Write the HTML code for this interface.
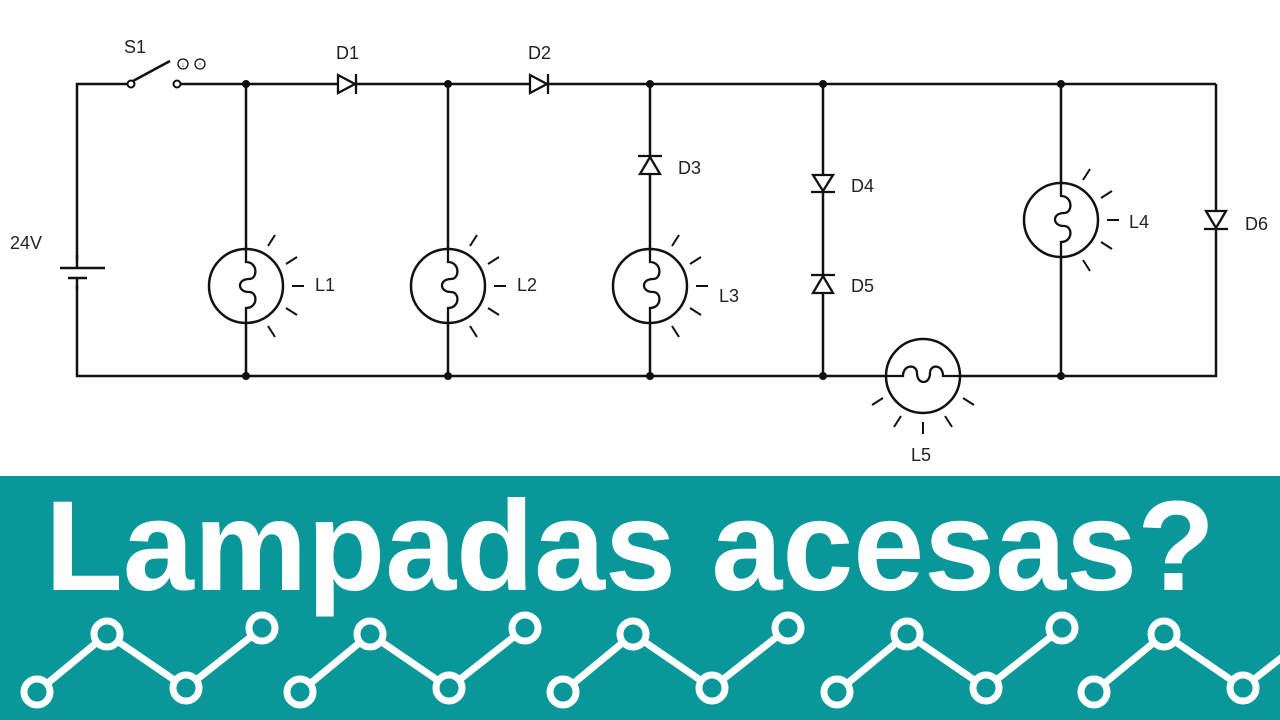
<!DOCTYPE html>
<html><head><meta charset="utf-8"><style>
html,body{margin:0;padding:0;background:#fff;}
svg{display:block;}
</style></head><body>
<svg width="1280" height="720" viewBox="0 0 1280 720" xmlns="http://www.w3.org/2000/svg">
<defs>
<g id="lamp">
<circle cx="0" cy="0" r="37" fill="#fff" stroke="#111" stroke-width="2.5"/>
<path d="M0,-37 V-24 C12,-24 12,-7 3,-7 C-9,-7 -9,6 3,6 C12,6 12,22 0,22 V37" fill="none" stroke="#111" stroke-width="2.3"/>
<g stroke="#111" stroke-width="2">
<line x1="22" y1="-40" x2="29" y2="-51"/>
<line x1="40" y1="-22" x2="51" y2="-29"/>
<line x1="46" y1="0" x2="58" y2="0"/>
<line x1="40" y1="22" x2="51" y2="29"/>
<line x1="22" y1="40" x2="29" y2="51"/>
</g>
</g>
</defs>
<g fill="none" stroke="#111" stroke-width="2.5">
<polyline points="77,268 77,84 128,84"/>
<line x1="180" y1="84" x2="1216" y2="84"/>
<polyline points="77,278 77,376 1216,376 1216,84"/>
<line x1="133" y1="81" x2="170" y2="61"/>
<line x1="246" y1="84" x2="246" y2="376"/>
<line x1="448" y1="84" x2="448" y2="376"/>
<line x1="650" y1="84" x2="650" y2="376"/>
<line x1="823" y1="84" x2="823" y2="376"/>
<line x1="1061" y1="84" x2="1061" y2="376"/>
</g>
<rect x="40" y="260" width="70" height="26" fill="#fff"/>
<line x1="60" y1="268" x2="105" y2="268" stroke="#111" stroke-width="2.5"/>
<line x1="68" y1="278" x2="87" y2="278" stroke="#111" stroke-width="2.5"/>
<line x1="77" y1="278" x2="77" y2="290" stroke="#111" stroke-width="2.5"/>
<line x1="77" y1="255" x2="77" y2="268" stroke="#111" stroke-width="2.5"/>
<circle cx="131" cy="84" r="3.5" fill="#fff" stroke="#111" stroke-width="2"/>
<circle cx="177" cy="84" r="3.5" fill="#fff" stroke="#111" stroke-width="2"/>
<circle cx="183" cy="64" r="5" fill="#fff" stroke="#111" stroke-width="1.3"/>
<circle cx="200" cy="64" r="5" fill="#fff" stroke="#111" stroke-width="1.3"/>
<text x="183" y="67" font-family="Liberation Sans" font-size="7" text-anchor="middle" fill="#111">↓</text>
<text x="200" y="67" font-family="Liberation Sans" font-size="7" text-anchor="middle" fill="#111">↑</text>
<g fill="#111">
<circle cx="246" cy="84" r="4"/><circle cx="448" cy="84" r="4"/><circle cx="650" cy="84" r="4"/><circle cx="823" cy="84" r="4"/><circle cx="1061" cy="84" r="4"/>
<circle cx="246" cy="376" r="4"/><circle cx="448" cy="376" r="4"/><circle cx="650" cy="376" r="4"/><circle cx="823" cy="376" r="4"/><circle cx="1061" cy="376" r="4"/>
</g>
<g fill="#fff" stroke="#111" stroke-width="2.3">
<polygon points="338,75 338,93 355,84"/><line x1="356" y1="74" x2="356" y2="94"/>
<polygon points="530,75 530,93 547,84"/><line x1="548" y1="74" x2="548" y2="94"/>
<polygon points="640,174 660,174 650,157"/><line x1="638" y1="156" x2="662" y2="156"/>
<polygon points="813,175 833,175 823,191"/><line x1="811" y1="192" x2="835" y2="192"/>
<polygon points="813,293 833,293 823,276"/><line x1="811" y1="275" x2="835" y2="275"/>
<polygon points="1206,211 1226,211 1216,228"/><line x1="1204" y1="229" x2="1228" y2="229"/>
</g>
<use href="#lamp" x="246" y="286"/>
<use href="#lamp" x="448" y="286"/>
<use href="#lamp" x="650" y="286"/>
<use href="#lamp" x="1061" y="220"/>
<g transform="translate(923,376) rotate(90)">
<circle cx="0" cy="0" r="37" fill="#fff" stroke="#111" stroke-width="2.5"/>
<path d="M0,-37 V-20 C-12,-20 -12,-7 -3,-7 C9,-7 9,6 -3,6 C-12,6 -12,20 0,20 V37" fill="none" stroke="#111" stroke-width="2.3"/>
<g stroke="#111" stroke-width="2">
<line x1="22" y1="-40" x2="29" y2="-51"/>
<line x1="40" y1="-22" x2="51" y2="-29"/>
<line x1="46" y1="0" x2="58" y2="0"/>
<line x1="40" y1="22" x2="51" y2="29"/>
<line x1="22" y1="40" x2="29" y2="51"/>
</g>
</g>
<g font-family="Liberation Sans, sans-serif" font-size="18" fill="#222">
<text x="124" y="53">S1</text>
<text x="336" y="59">D1</text>
<text x="528" y="59">D2</text>
<text x="678" y="174">D3</text>
<text x="851" y="192">D4</text>
<text x="851" y="292">D5</text>
<text x="1245" y="230">D6</text>
<text x="10" y="249">24V</text>
<text x="315" y="291">L1</text>
<text x="517" y="291">L2</text>
<text x="719" y="302">L3</text>
<text x="1129" y="228">L4</text>
<text x="911" y="461">L5</text>
</g>
<rect x="0" y="476" width="1280" height="244" fill="#0a979a"/>
<text x="45" y="590" font-family="Liberation Sans, sans-serif" font-weight="bold" font-size="128" fill="#fff" textLength="1170" lengthAdjust="spacingAndGlyphs">Lampadas acesas?</text>
<g fill="none" stroke="#fff" stroke-width="7">
<g id="zz">
<polyline points="37,692 107,634 186,688 262,628"/>
<circle cx="37" cy="692" r="13" fill="#0a979a"/>
<circle cx="107" cy="634" r="13" fill="#0a979a"/>
<circle cx="186" cy="688" r="13" fill="#0a979a"/>
<circle cx="262" cy="628" r="13" fill="#0a979a"/>
</g>
<use href="#zz" x="263"/>
<use href="#zz" x="526"/>
<use href="#zz" x="800"/>
<use href="#zz" x="1057"/>
</g>
</svg>
</body></html>
